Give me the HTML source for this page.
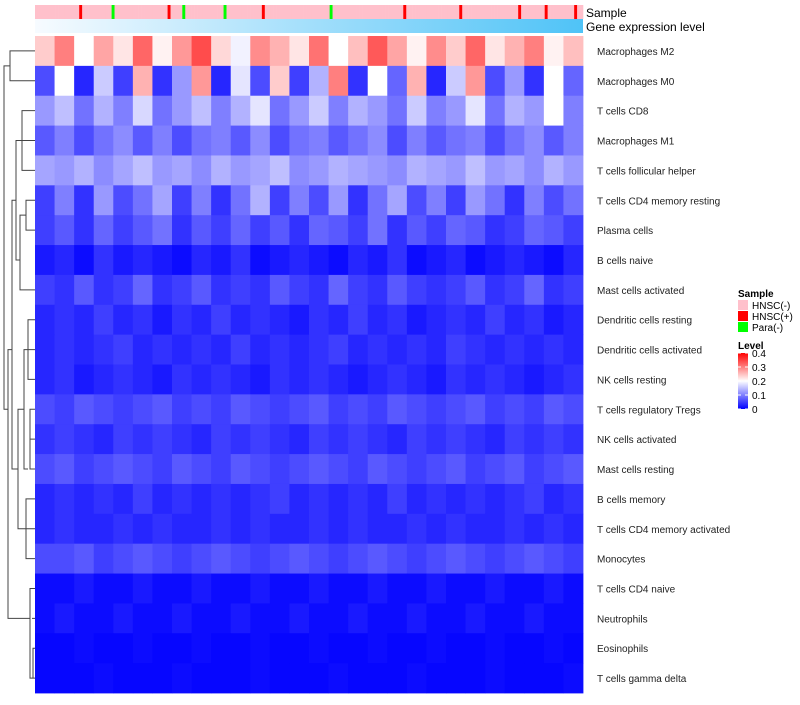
<!DOCTYPE html>
<html><head><meta charset="utf-8"><style>
body{margin:0;background:#fff;font-family:"Liberation Sans",sans-serif}
#c{position:relative;width:800px;height:700px}
</style></head><body>
<div id="c">
<svg id="s" width="800" height="700" xmlns="http://www.w3.org/2000/svg"></svg>
</div>
<script>
const rowLabels=["Macrophages M2","Macrophages M0","T cells CD8","Macrophages M1","T cells follicular helper","T cells CD4 memory resting","Plasma cells","B cells naive","Mast cells activated","Dendritic cells resting","Dendritic cells activated","NK cells resting","T cells regulatory  Tregs","NK cells activated","Mast cells resting","B cells memory","T cells CD4 memory activated","Monocytes","T cells CD4 naive","Neutrophils","Eosinophils","T cells gamma delta"];
const rowValues=[
[0.24,0.3,0.2,0.27,0.22,0.32,0.21,0.28,0.34,0.23,0.19,0.29,0.26,0.22,0.31,0.2,0.25,0.33,0.27,0.21,0.29,0.24,0.32,0.22,0.26,0.3,0.21,0.25],
[0.06,0.2,0.03,0.16,0.05,0.26,0.04,0.12,0.28,0.03,0.18,0.06,0.24,0.05,0.14,0.3,0.04,0.2,0.08,0.26,0.03,0.16,0.28,0.06,0.12,0.04,0.2,0.08],
[0.12,0.15,0.09,0.14,0.1,0.17,0.09,0.12,0.15,0.1,0.14,0.18,0.09,0.12,0.16,0.1,0.14,0.12,0.09,0.16,0.1,0.12,0.18,0.09,0.14,0.12,0.2,0.1],
[0.07,0.1,0.06,0.09,0.11,0.07,0.1,0.06,0.09,0.1,0.07,0.11,0.06,0.09,0.1,0.07,0.09,0.11,0.06,0.1,0.07,0.09,0.1,0.06,0.09,0.11,0.07,0.1],
[0.13,0.12,0.14,0.11,0.13,0.15,0.12,0.13,0.11,0.14,0.12,0.13,0.15,0.11,0.12,0.14,0.13,0.12,0.11,0.14,0.13,0.12,0.15,0.12,0.13,0.11,0.14,0.12],
[0.05,0.1,0.04,0.12,0.06,0.09,0.13,0.05,0.1,0.04,0.09,0.14,0.05,0.1,0.06,0.12,0.04,0.09,0.13,0.06,0.1,0.05,0.12,0.09,0.04,0.1,0.06,0.09],
[0.05,0.07,0.04,0.08,0.05,0.07,0.09,0.04,0.07,0.05,0.08,0.05,0.07,0.04,0.08,0.07,0.05,0.09,0.04,0.07,0.05,0.08,0.07,0.04,0.05,0.08,0.07,0.05],
[0.02,0.03,0.01,0.04,0.02,0.03,0.02,0.01,0.03,0.02,0.04,0.01,0.02,0.03,0.02,0.01,0.03,0.02,0.04,0.01,0.02,0.03,0.01,0.02,0.03,0.02,0.01,0.03],
[0.05,0.04,0.07,0.04,0.05,0.08,0.04,0.05,0.07,0.04,0.05,0.04,0.07,0.05,0.04,0.08,0.05,0.04,0.07,0.05,0.04,0.05,0.07,0.04,0.05,0.08,0.04,0.05],
[0.03,0.04,0.03,0.05,0.03,0.04,0.02,0.04,0.03,0.05,0.03,0.04,0.03,0.02,0.04,0.03,0.05,0.03,0.04,0.02,0.03,0.04,0.03,0.05,0.03,0.04,0.02,0.03],
[0.03,0.04,0.03,0.04,0.05,0.03,0.04,0.03,0.04,0.03,0.05,0.03,0.04,0.03,0.04,0.05,0.03,0.04,0.03,0.04,0.03,0.05,0.04,0.03,0.04,0.03,0.04,0.03],
[0.03,0.04,0.02,0.03,0.04,0.03,0.02,0.04,0.03,0.04,0.03,0.02,0.04,0.03,0.04,0.03,0.02,0.03,0.04,0.03,0.02,0.04,0.03,0.04,0.03,0.02,0.03,0.04],
[0.06,0.05,0.07,0.06,0.05,0.06,0.07,0.05,0.06,0.05,0.07,0.06,0.05,0.06,0.07,0.05,0.06,0.05,0.07,0.06,0.05,0.06,0.07,0.05,0.06,0.05,0.07,0.06],
[0.04,0.05,0.04,0.03,0.05,0.04,0.05,0.04,0.03,0.05,0.04,0.05,0.04,0.03,0.05,0.04,0.05,0.04,0.03,0.05,0.04,0.05,0.04,0.03,0.05,0.04,0.05,0.04],
[0.06,0.07,0.05,0.06,0.07,0.06,0.05,0.07,0.06,0.05,0.07,0.06,0.05,0.06,0.07,0.06,0.05,0.07,0.06,0.05,0.06,0.07,0.05,0.06,0.07,0.05,0.06,0.07],
[0.03,0.04,0.03,0.04,0.03,0.05,0.03,0.04,0.03,0.04,0.03,0.04,0.05,0.03,0.04,0.03,0.04,0.03,0.05,0.03,0.04,0.03,0.04,0.03,0.04,0.05,0.03,0.04],
[0.03,0.04,0.03,0.03,0.04,0.03,0.04,0.03,0.03,0.04,0.03,0.04,0.03,0.03,0.04,0.03,0.04,0.03,0.03,0.04,0.03,0.04,0.03,0.03,0.04,0.03,0.04,0.03],
[0.06,0.06,0.07,0.05,0.06,0.07,0.06,0.05,0.06,0.07,0.06,0.05,0.06,0.07,0.06,0.05,0.06,0.07,0.06,0.05,0.06,0.07,0.06,0.05,0.06,0.07,0.06,0.05],
[0.01,0.01,0.02,0.01,0.01,0.02,0.01,0.01,0.02,0.01,0.01,0.02,0.01,0.01,0.02,0.01,0.01,0.02,0.01,0.01,0.02,0.01,0.01,0.02,0.01,0.01,0.02,0.01],
[0.01,0.02,0.01,0.01,0.02,0.01,0.01,0.02,0.01,0.01,0.02,0.01,0.01,0.02,0.01,0.01,0.02,0.01,0.01,0.02,0.01,0.01,0.02,0.01,0.01,0.02,0.01,0.01],
[0.005,0.005,0.01,0.005,0.005,0.01,0.005,0.005,0.01,0.005,0.005,0.01,0.005,0.005,0.01,0.005,0.005,0.01,0.005,0.005,0.01,0.005,0.005,0.01,0.005,0.005,0.01,0.005],
[0.005,0.005,0.005,0.01,0.005,0.005,0.005,0.01,0.005,0.005,0.005,0.01,0.005,0.005,0.005,0.01,0.005,0.005,0.005,0.01,0.005,0.005,0.005,0.01,0.005,0.005,0.005,0.01]
];
const sampleGroups=[0,0,0,0,0,0,0,0,0,0,0,0,0,0,0,1,0,0,0,0,0,0,0,0,0,0,2,0,0,0,0,0,0,0,0,0,0,0,0,0,0,0,0,0,0,1,0,0,0,0,2,0,0,0,0,0,0,0,0,0,0,0,0,0,2,0,0,0,0,0,0,0,0,0,0,0,0,1,0,0,0,0,0,0,0,0,0,0,0,0,0,0,0,0,0,0,0,0,0,0,2,0,0,0,0,0,0,0,0,0,0,0,0,0,0,0,0,0,0,0,0,0,0,0,0,1,0,0,0,0,0,0,0,0,0,0,0,0,0,0,0,0,0,0,1,0,0,0,0,0,0,0,0,0,0,0,0,0,0,0,0,0,0,0,1,0,0,0,0,0,0,0,0,1,0,0,0,0,0,0,0,0,0,1,0,0];
const sampleNames=["HNSC(-)","HNSC(+)","Para(-)"];
const sampleColors=["#ffc0cb","#ff0000","#00ff00"];
const levelTicks=[0,0.1,0.2,0.3,0.4];

const NS="http://www.w3.org/2000/svg",svg=document.getElementById('s');
function el(t,a,p){const e=document.createElementNS(NS,t);for(const k in a)e.setAttribute(k,a[k]);(p||svg).appendChild(e);return e;}
const X0=35,X1=583,Y0=36,Y1=693,rowH=(Y1-Y0)/rowLabels.length;
function colorOf(v){const t=Math.max(0,Math.min(1,v/0.4));let r,g,b;
 if(t<0.5){const u=t/0.5;r=255*u;g=255*u;b=255;}else{const u=(t-0.5)/0.5;r=255;g=255*(1-u);b=255*(1-u);}
 return `rgb(${r|0},${g|0},${b|0})`;}
const sw=(X1-X0)/sampleGroups.length;
sampleGroups.forEach((g,i)=>{const r=el('rect',{x:X0+i*sw,y:5,width:sw+0.3,height:14,fill:sampleColors[g]});

});
const defs=el('defs',{});const lg=el('linearGradient',{id:'ge',x1:0,x2:1,y1:0,y2:0},defs);
el('stop',{offset:0,'stop-color':'#f7fbff'},lg);el('stop',{offset:1,'stop-color':'#4fc3f7'},lg);
const gb=el('rect',{x:X0,y:19,width:X1-X0,height:14,fill:'url(#ge)'});


const t1=el('text',{x:X1+3,y:17,'font-size':12});t1.textContent='Sample';


const t2=el('text',{x:X1+3,y:31,'font-size':12});t2.textContent='Gene expression level';


rowValues.forEach((vals,r)=>{const cw=(X1-X0)/vals.length;
 vals.forEach((v,c)=>{const rc=el('rect',{x:X0+c*cw,y:Y0+r*rowH,width:cw+0.4,height:rowH+0.4,fill:colorOf(v)});
 
 });
 const tx=el('text',{x:597,y:Y0+r*rowH+rowH/2+4,'font-size':10,fill:'#222'});tx.textContent=rowLabels[r];
 
 });
const dg=el('g',{stroke:'#444','stroke-width':1,fill:'none'});


const cy=i=>Y0+i*rowH+rowH/2;
el('path',{d:`M35 ${cy(0)}H10V${cy(1)}H35 M10 ${(cy(0)+cy(1))/2}H4V${cy(12)}H8`},dg);
el('path',{d:`M35 ${cy(2)}H22V${cy(4)}H35 M35 ${cy(3)}H22 M22 ${cy(3)}H16V${cy(7)}H20 M35 ${cy(5)}H26V${cy(6)}H35 M26 ${cy(5.5)}H20V${cy(8)}H35`},dg);
el('path',{d:`M35 ${cy(9)}H28V${cy(11)}H35 M35 ${cy(10)}H28 M28 ${cy(10)}H24V${cy(14)}H28 M35 ${cy(12)}H30V${cy(14)}H35 M35 ${cy(13)}H30 M24 ${cy(12)}H18V${cy(16)}H26 M35 ${cy(15)}H26V${cy(17)}H35 M35 ${cy(16)}H26`},dg);
el('path',{d:`M16 ${cy(5)}H12V${cy(14)}H18 M12 ${cy(10)}H8V${cy(19)}H30 M35 ${cy(18)}H30V${cy(21)}H35 M35 ${cy(19)}H32 M35 ${cy(20)}H33V${cy(21)}`},dg);
const lgG=el('g',{});


const st=el('text',{x:738,y:297,'font-size':10,'font-weight':'bold'},lgG);st.textContent='Sample';
sampleNames.forEach((n,i)=>{const r=el('rect',{x:738,y:300+i*11,width:10,height:10,fill:sampleColors[i]},lgG);
 
 
 const t=el('text',{x:752,y:309+i*11,'font-size':10},lgG);t.textContent=n;
 
 });
const lt=el('text',{x:738,y:349,'font-size':10,'font-weight':'bold'},lgG);lt.textContent='Level';
const cb=el('linearGradient',{id:'lv',x1:0,x2:0,y1:1,y2:0},defs);
el('stop',{offset:0,'stop-color':'#0000ff'},cb);el('stop',{offset:0.5,'stop-color':'#ffffff'},cb);el('stop',{offset:1,'stop-color':'#ff0000'},cb);
const cbr=el('rect',{x:738,y:353,width:10,height:56,fill:'url(#lv)'},lgG);


levelTicks.forEach(v=>{const y=409-v/0.4*56;
 el('line',{x1:738,x2:741,y1:y,y2:y,stroke:'#fff'},lgG);el('line',{x1:745,x2:748,y1:y,y2:y,stroke:'#fff'},lgG);
 const t=el('text',{x:752,y:y+4,'font-size':10},lgG);t.textContent=String(v);
 
 });
</script>
</body></html>
